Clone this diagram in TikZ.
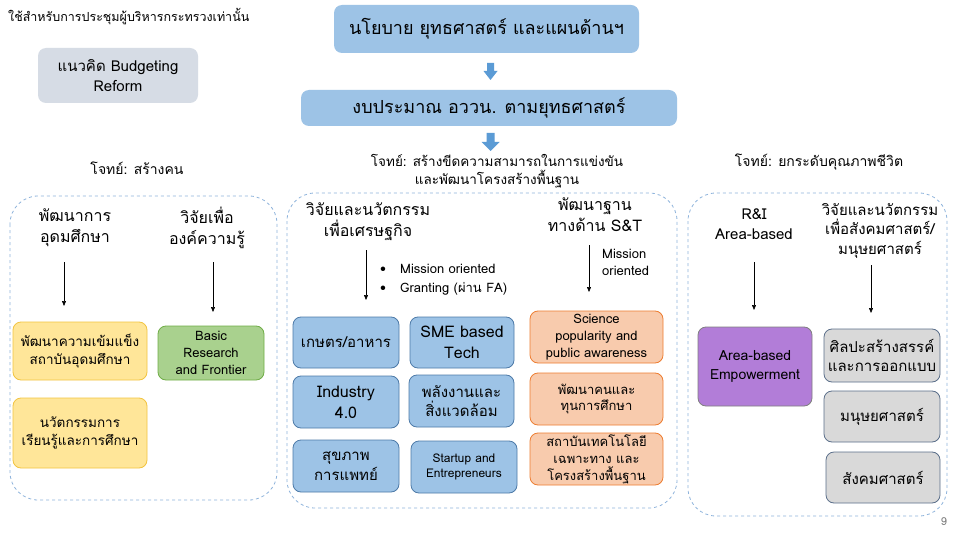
\documentclass[tikz,border=0pt]{standalone}
\usepackage{fontspec}
\setmainfont[Script=Thai]{Loma}
\usetikzlibrary{arrows.meta,calc}
\definecolor{titleblue}{HTML}{9DC3E6}
\definecolor{budgetfill}{HTML}{D6DCE5}
\definecolor{bluefill}{HTML}{9DC3E6}
\definecolor{blueline}{HTML}{4D7AA8}
\definecolor{yelfill}{HTML}{FFE699}
\definecolor{yelline}{HTML}{F2C440}
\definecolor{grnfill}{HTML}{A9D18E}
\definecolor{grnline}{HTML}{70AD47}
\definecolor{orfill}{HTML}{F8CBAD}
\definecolor{orline}{HTML}{ED7D31}
\definecolor{purfill}{HTML}{B27DD8}
\definecolor{purline}{HTML}{7F7F7F}
\definecolor{greyfill}{HTML}{D9D9D9}
\definecolor{greyline}{HTML}{5B6F8A}
\definecolor{dashcol}{HTML}{8FB4DC}
\definecolor{arrowblue}{HTML}{5B9BD5}
\tikzset{
  fs/.style={font={\fontsize{#1}{#1}\selectfont\setlength\baselineskip{1.3em}}},
  basebox/.style={rounded corners=8pt, align=center, inner sep=1pt, line width=0.8pt},
  titlebox/.style={basebox, fill=titleblue, draw=none},
  budgetbox/.style={basebox, fill=budgetfill, draw=none},
  bluebox/.style={basebox, fill=bluefill, draw=blueline},
  yelbox/.style={basebox, fill=yelfill, draw=yelline},
  grnbox/.style={basebox, fill=grnfill, draw=grnline},
  orbox/.style={basebox, fill=orfill, draw=orline},
  purbox/.style={basebox, fill=purfill, draw=purline},
  greybox/.style={basebox, fill=greyfill, draw=greyline},
  container/.style={draw=dashcol, dashed, rounded corners=28pt, line width=0.8pt},
  label/.style={align=center, inner sep=0pt},
  thinarrow/.style={-{Triangle[length=5pt,width=4pt]}, line width=0.6pt, black},
  blockarrow/.style={fill=arrowblue, draw=none},
}
\begin{document}
\begin{tikzpicture}[x=1pt,y=-1pt]
\useasboundingbox (0,0) rectangle (960,540);
\fill[white] (0,0) rectangle (960,540);

% top note
\node[label, fs=12.5, anchor=west] (note) at (8,17) {ใช้สำหรับการประชุมผู้บริหารกระทรวงเท่านั้น};

% budgeting box
\node[budgetbox, fs=15, minimum width=160pt, minimum height=55pt] (reform) at (118,75.5) {แนวคิด Budgeting\\Reform};

% title boxes
\node[titlebox, fs=18, minimum width=305pt, minimum height=48pt] (policy) at (486.5,29) {นโยบาย ยุทธศาสตร์ และแผนด้านฯ};
\node[titlebox, fs=18, minimum width=376pt, minimum height=36pt] (budget) at (489,108) {งบประมาณ อววน. ตามยุทธศาสตร์};

% block arrows
\coordinate (ba1) at (490.5,63);
\coordinate (ba2) at (490.5,133);
\fill[blockarrow] ($(ba1)+(-3.5,0)$) -- ++(7,0) -- ++(0,8) -- ++(3.5,0) -- ++(-7,9) -- ++(-7,-9) -- ++(3.5,0) -- cycle;
\fill[blockarrow] ($(ba2)+(-4,0)$) -- ++(8,0) -- ++(0,9) -- ++(5,0) -- ++(-9,9) -- ++(-9,-9) -- ++(5,0) -- cycle;

% goals
\node[label, fs=14] (goalL) at (137,168) {โจทย์: สร้างคน};
\node[label, fs=13.5] (goalM) at (497,171) {โจทย์: สร้างขีดความสามารถในการแข่งขัน\\และพัฒนาโครงสร้างพื้นฐาน};
\node[label, fs=14] (goalR) at (819,162) {โจทย์: ยกระดับคุณภาพชีวิต};

% containers
\draw[container] (10,196) rectangle (277,500);
\draw[container] (287,193) rectangle (677,508);
\draw[container] (688,193) rectangle (947,516);

% ---------- left ----------
\node[label, fs=16] (hL1) at (75,228) {พัฒนาการ\\อุดมศึกษา};
\node[label, fs=16] (hL2) at (207,228) {วิจัยเพื่อ\\องค์ความรู้};
\coordinate (aL1s) at (64,262); \coordinate (aL1e) at (64,306);
\coordinate (aL2s) at (213,262); \coordinate (aL2e) at (213,312);
\draw[thinarrow] (aL1s) -- (aL1e);
\draw[thinarrow] (aL2s) -- (aL2e);
\node[yelbox, fs=13.5, minimum width=134pt, minimum height=58pt] (yel1) at (80,351) {พัฒนาความเข้มแข็ง\\สถาบันอุดมศึกษา};
\node[yelbox, fs=13.5, minimum width=134pt, minimum height=70pt] (yel2) at (80,433) {นวัตกรรมการ\\เรียนรู้และการศึกษา};
\node[grnbox, fs=13, minimum width=106pt, minimum height=54pt] (basic) at (211,353) {Basic\\Research\\and Frontier};

% ---------- middle ----------
\node[label, fs=16] (hM1) at (368,222) {วิจัยและนวัตกรรม\\เพื่อเศรษฐกิจ};
\node[label, fs=16] (hM2) at (595,215) {พัฒนาฐาน\\ทางด้าน S\&T};
\coordinate (aM1s) at (366,250); \coordinate (aM1e) at (366,300);
\coordinate (aM2s) at (589,245); \coordinate (aM2e) at (589,292);
\draw[thinarrow] (aM1s) -- (aM1e);
\draw[thinarrow] (aM2s) -- (aM2e);
\node[label, fs=13, anchor=west] (bul1) at (380,269) {•\hspace{14pt}Mission oriented};
\node[label, fs=13, anchor=west] (bul2) at (380,289) {•\hspace{14pt}Granting (ผ่าน FA)};
\node[label, fs=13, anchor=west, align=left] (mission) at (602,262.5) {Mission\\oriented};

\node[bluebox, fs=15, minimum width=106pt, minimum height=51pt] (kaset) at (346,342.5) {เกษตร/อาหาร};
\node[bluebox, fs=16, minimum width=104pt, minimum height=51pt] (sme) at (462,342.5) {SME based\\Tech};
\node[bluebox, fs=16, minimum width=106pt, minimum height=52pt] (ind) at (346,402) {Industry\\4.0};
\node[bluebox, fs=15, minimum width=105pt, minimum height=52pt] (energy) at (461.5,401) {พลังงานและ\\สิ่งแวดล้อม};
\node[bluebox, fs=15, minimum width=106pt, minimum height=52pt] (health) at (346,466) {สุขภาพ\\การแพทย์};
\node[bluebox, fs=12, minimum width=106pt, minimum height=52pt] (startup) at (464,467) {Startup and\\Entrepreneurs};

\node[orbox, fs=13, minimum width=133pt, minimum height=52pt] (sci) at (596.5,337) {Science\\popularity and\\public awareness};
\node[orbox, fs=13, minimum width=133pt, minimum height=52pt] (people) at (596.5,399) {พัฒนาคนและ\\ทุนการศึกษา};
\node[orbox, fs=13, minimum width=133pt, minimum height=52pt] (inst) at (596.5,459) {สถาบันเทคโนโลยี\\เฉพาะทาง และ\\โครงสร้างพื้นฐาน};

% ---------- right ----------
\node[label, fs=15] (hR1) at (754,224) {R\&I\\Area-based};
\node[label, fs=15] (hR2) at (880,230.5) {วิจัยและนวัตกรรม\\เพื่อสังคมศาสตร์/\\มนุษยศาสตร์};
\coordinate (aR1s) at (754,262); \coordinate (aR1e) at (754,310);
\coordinate (aR2s) at (871,265); \coordinate (aR2e) at (871,313);
\draw[thinarrow] (aR1s) -- (aR1e);
\draw[thinarrow] (aR2s) -- (aR2e);
\node[purbox, fs=14, minimum width=114pt, minimum height=79pt] (area) at (755,366.5) {Area-based\\Empowerment};
\node[greybox, fs=15, minimum width=116pt, minimum height=53pt] (art) at (882,355.5) {ศิลปะสร้างสรรค์\\และการออกแบบ};
\node[greybox, fs=15, minimum width=116pt, minimum height=51pt] (human) at (882,416.5) {มนุษยศาสตร์};
\node[greybox, fs=15, minimum width=114pt, minimum height=51pt] (social) at (883,477.5) {สังคมศาสตร์};

\node[label, fs=11, text=gray] (page) at (944,522) {9};
\end{tikzpicture}
\end{document}
